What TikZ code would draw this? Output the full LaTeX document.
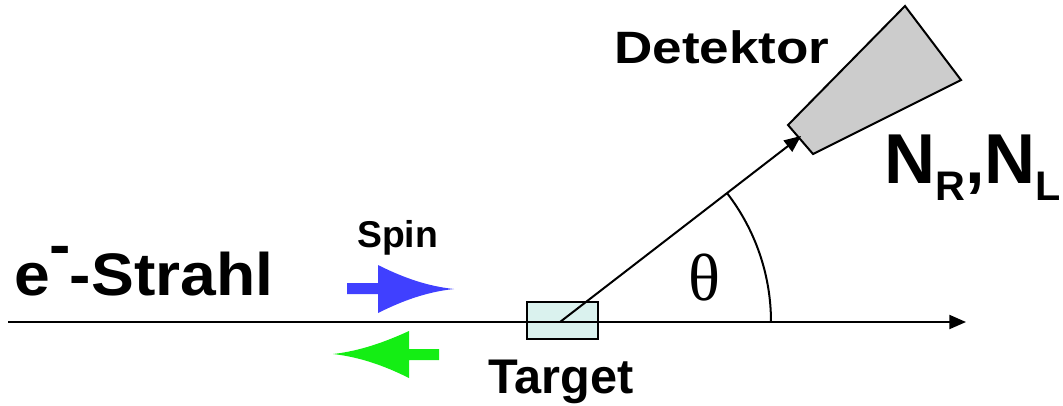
\documentclass[tikz,border=0pt]{standalone}
\usepackage{fontspec}
\setmainfont{Liberation Sans}
\newfontfamily\greekserif{Liberation Serif}
\usetikzlibrary{arrows.meta}
\definecolor{targetfill}{RGB}{218,242,238}
\definecolor{detfill}{RGB}{204,204,204}
\definecolor{spinblue}{RGB}{64,64,255}
\definecolor{spingreen}{RGB}{20,238,20}
\tikzset{
  lbl/.style={inner sep=0pt, anchor=base west, font=\bfseries},
  thinline/.style={line width=1.5pt},
  tip/.style={-{Triangle[length=12.5pt,width=10.5pt]}}
}
\begin{document}
\begin{tikzpicture}[x=0.75pt,y=-0.75pt]
\useasboundingbox (0,0) rectangle (1063,405);
% target
\node[draw, thinline, fill=targetfill, minimum width=53pt, minimum height=27.5pt, inner sep=0pt] (target) at (562.5,320.5) {};
% beam
\coordinate (beamstart) at (8,322);
\coordinate (beamend) at (966,322);
\draw[thinline, tip] (beamstart) -- (beamend);
% detector
\coordinate (d1) at (788,125);
\coordinate (d2) at (905,6);
\coordinate (d3) at (961,80);
\coordinate (d4) at (813,154);
\draw[thinline, fill=detfill, line join=miter] (d1) -- (d2) -- (d3) -- (d4) -- cycle;
% scattered path
\coordinate (origin) at (560,322);
\coordinate (det) at (801,136);
\draw[thinline, tip] (origin) -- (det);
% angle arc
\draw[thinline] (771,322) arc[start angle=0, end angle=-37.66, radius=211];
\node[inner sep=0pt, anchor=base, font=\greekserif\fontsize{50}{50}\selectfont] (theta) at (704.5,300) {θ};
% spin arrows
\fill[spinblue] (347,283) -- (378,283) -- (378,265) .. controls (400,276) and (425,286) .. (454,289) .. controls (425,292) and (400,302) .. (378,313) -- (378,294) -- (347,294) -- cycle;
\fill[spingreen] (439,349) -- (409,349) -- (409,331) .. controls (385,342) and (360,351) .. (333,354) .. controls (360,357) and (385,366) .. (409,378) -- (409,360) -- (439,360) -- cycle;
% labels
\node[lbl, font=\bfseries\fontsize{45}{45}\selectfont, xscale=1.07] (beam) at (14,295) {e\raisebox{22pt}{-}\kern-1pt-Strahl};
\node[lbl, font=\bfseries\fontsize{28}{28}\selectfont] (spin) at (357,247) {Spin};
\node[lbl, font=\bfseries\fontsize{36.5}{36.5}\selectfont] (targetlbl) at (488,393) {Target};
\node[lbl, font=\bfseries\fontsize{34}{34}\selectfont, xscale=1.17] (detlbl) at (614,63.5) {Detektor};
\node[lbl, font=\bfseries\fontsize{53}{53}\selectfont] (counts) at (884,183) {N\raisebox{-12.75pt}{\fontsize{31}{31}\selectfont R},N\raisebox{-12.75pt}{\fontsize{31}{31}\selectfont L}};
\end{tikzpicture}
\end{document}
